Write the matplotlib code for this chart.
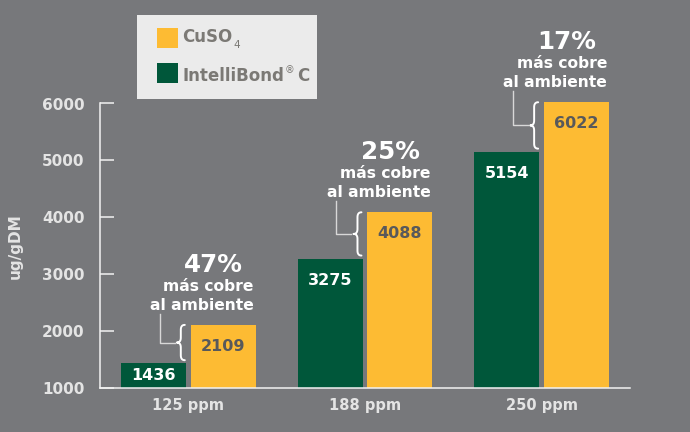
import matplotlib
matplotlib.use("Agg")
import matplotlib.pyplot as plt
import numpy as np
from matplotlib.transforms import IdentityTransform

categories = ["125 ppm", "188 ppm", "250 ppm"]
intellibond = [1436, 3275, 5154]
cuso4 = [2109, 4088, 6022]
pct_labels = ["47%", "25%", "17%"]
yticks = [1000, 2000, 3000, 4000, 5000, 6000]

BG = "#77787b"
GREEN = "#00573a"
YELLOW = "#fdbb33"
DARKTXT = "#58595b"
LIGHT = "#e4e4e4"
W, H = 690, 432
BASE = 1000

plt.rcParams['font.family'] = ['DejaVu Sans']
fig = plt.figure(figsize=(6.9, 4.32), dpi=100, facecolor=BG)
ax = fig.add_axes([100 / W, 1 - 388 / H, 530 / W, (388 - 103.5) / H])
ax.set_facecolor(BG)

x = np.arange(len(categories))
bw = 0.368
off = 0.198
ax.bar(x - off, [v - BASE for v in intellibond], bw, bottom=BASE, color=GREEN, clip_on=False, zorder=2)
ax.bar(x + off, [v - BASE for v in cuso4], bw, bottom=BASE, color=YELLOW, clip_on=False, zorder=2)
ax.set_xlim(-0.5, 2.5)
ax.set_ylim(1000, 6000)

for s in ["top", "right"]:
    ax.spines[s].set_visible(False)
for s in ["left", "bottom"]:
    ax.spines[s].set_color("#f2f2f2")
    ax.spines[s].set_linewidth(1.1)
    ax.spines[s].set_zorder(3)
ax.set_yticks(yticks)
ax.set_yticklabels([str(v) for v in yticks], fontsize=11, fontweight="bold", color=LIGHT)
ax.tick_params(axis="y", direction="in", length=10, width=1.1, color="#f2f2f2", pad=11)
ax.set_xticks(x)
ax.set_xticklabels(categories, fontsize=10.5, fontweight="bold", color=LIGHT)
ax.tick_params(axis="x", length=0, pad=7)
fig.text(15 / W, 1 - 246 / H, "ug/gDM", rotation=90, ha="center", va="center",
         fontsize=11, fontweight="bold", color=LIGHT)

fig.canvas.draw()
T = ax.transData
ID = IdentityTransform()

def brace(xl, ytop, ybot, w=8, lw=1.4, color="white"):
    ym = (ytop + ybot) / 2
    h = ytop - ybot
    xr = xl + w
    xm = xl + w / 2
    c = min(5, h * 0.15)
    t = np.linspace(0, 1, 12)

    def bez(p0, p1, p2):
        return [((1 - s) ** 2 * p0[0] + 2 * (1 - s) * s * p1[0] + s ** 2 * p2[0],
                 (1 - s) ** 2 * p0[1] + 2 * (1 - s) * s * p1[1] + s ** 2 * p2[1]) for s in t]
    verts = []
    verts += bez((xr, ytop), (xm, ytop), (xm, ytop - c))
    verts += [(xm, ym + c)]
    verts += bez((xm, ym + c), (xm, ym), (xl, ym))
    verts += bez((xl, ym), (xm, ym), (xm, ym - c))
    verts += [(xm, ybot + c)]
    verts += bez((xm, ybot + c), (xm, ybot), (xr, ybot))
    v = np.array(verts)
    fig.add_artist(plt.Line2D(v[:, 0], v[:, 1], transform=ID, color=color, lw=lw,
                              solid_capstyle="round"))

for i in range(len(categories)):
    gx, gy = T.transform((x[i] - off, intellibond[i]))
    _, gb = T.transform((x[i], BASE))
    yx, yy = T.transform((x[i] + off, cuso4[i]))
    if gy - gb < 40:
        ax.text(x[i] - off, (intellibond[i] + BASE) / 2, str(intellibond[i]), ha="center", va="center",
                fontsize=11.5, fontweight="bold", color="white", zorder=3)
    else:
        fig.text(gx / W, (gy - 26) / H, str(intellibond[i]), ha="center", va="baseline",
                 fontsize=11.5, fontweight="bold", color="white", zorder=3)
    fig.text(yx / W, (yy - 26) / H, str(cuso4[i]), ha="center", va="baseline",
             fontsize=11.5, fontweight="bold", color=DARKTXT, zorder=3)
    xl, _ = T.transform((x[i] + off - bw / 2, cuso4[i]))
    top = yy
    gtop = gy + 3
    brace(xl - 14, top, gtop)
    ym = (top + gtop) / 2
    fig.add_artist(plt.Line2D([xl - 31, xl - 31, xl - 16], [top + 11, ym, ym], transform=ID,
                              color="#d8d8d8", lw=1.0))
    fig.text((xl + 63) / W, (top + 15) / H, "al ambiente", ha="right", va="baseline",
             fontsize=11.2, fontweight="bold", color="white")
    fig.text((xl + 63) / W, (top + 34) / H, "más cobre", ha="right", va="baseline",
             fontsize=11.2, fontweight="bold", color="white")
    fig.text((xl + 52) / W, (top + 53) / H, pct_labels[i], ha="right", va="baseline",
             fontsize=17.7, fontweight="bold", color="white")

# legend box
fig.add_artist(plt.Rectangle((137 / W, 1 - 99 / H), 180 / W, 84 / H, transform=fig.transFigure,
                             facecolor="#ebebeb", edgecolor="none"))
fig.add_artist(plt.Rectangle((157 / W, 1 - 48 / H), 21 / W, 20 / H, transform=fig.transFigure,
                             facecolor=YELLOW, edgecolor="none"))
fig.add_artist(plt.Rectangle((157 / W, 1 - 83 / H), 21 / W, 20 / H, transform=fig.transFigure,
                             facecolor=GREEN, edgecolor="none"))
LEGC = "#7b7975"
t1 = fig.text(182 / W, 1 - 41.7 / H, "CuSO", fontsize=12, fontweight="bold", color=LEGC, va="baseline")
t2 = fig.text(182 / W, 1 - 80.7 / H, "IntelliBond", fontsize=12, fontweight="bold", color=LEGC, va="baseline")
fig.canvas.draw()
r = fig.canvas.get_renderer()
b1 = t1.get_window_extent(r)
fig.text((b1.x1 + 1) / W, 1 - 48 / H, "4", fontsize=7.5, color=LEGC, va="baseline")
b2 = t2.get_window_extent(r)
t3 = fig.text((b2.x1 + 1) / W, 1 - 73 / H, "®", fontsize=7, color=LEGC, va="baseline")
fig.canvas.draw()
b3 = t3.get_window_extent(r)
fig.text((b3.x1 + 3) / W, 1 - 80.7 / H, "C", fontsize=12, fontweight="bold", color=LEGC, va="baseline")

fig.savefig("out.png", dpi=100, facecolor=BG)
